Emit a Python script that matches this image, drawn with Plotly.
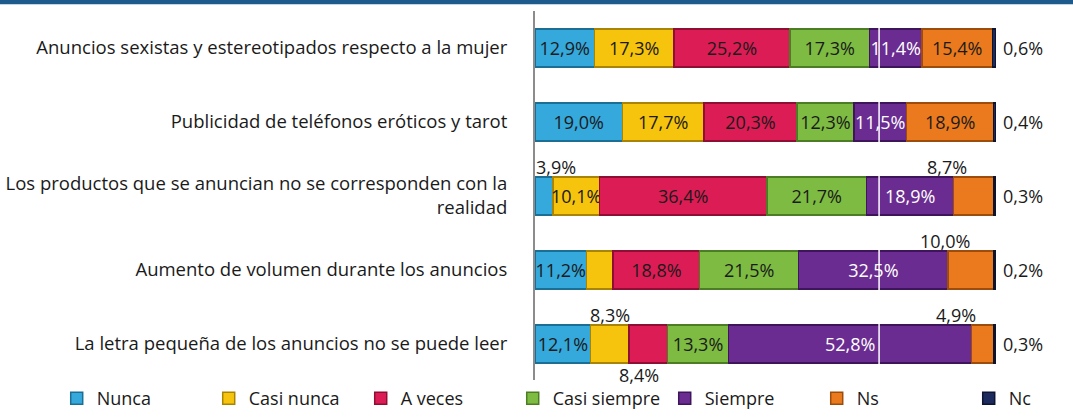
import plotly.graph_objects as go

categories = [
    "Anuncios sexistas y estereotipados respecto a la mujer",
    "Publicidad de teléfonos eróticos y tarot",
    "Los productos que se anuncian no se corresponden con la<br>realidad",
    "Aumento de volumen durante los anuncios",
    "La letra pequeña de los anuncios no se puede leer",
]
series_names = ["Nunca", "Casi nunca", "A veces", "Casi siempre", "Siempre", "Ns", "Nc"]
nunca = [12.9, 19.0, 3.9, 11.2, 12.1]
casi_nunca = [17.3, 17.7, 10.1, 5.8, 8.3]
a_veces = [25.2, 20.3, 36.4, 18.8, 8.4]
casi_siempre = [17.3, 12.3, 21.7, 21.5, 13.3]
siempre = [11.4, 11.5, 18.9, 32.5, 52.8]
ns = [15.4, 18.9, 8.7, 10.0, 4.9]
nc = [0.6, 0.4, 0.3, 0.2, 0.3]
values = [nunca, casi_nunca, a_veces, casi_siempre, siempre, ns, nc]

# label placement per series/category: 'in', 'above', 'below', 'right', 'none'
placement = [
    ["in", "in", "above", "in", "in"],
    ["in", "in", "in", "none", "above"],
    ["in", "in", "in", "in", "below"],
    ["in", "in", "in", "in", "in"],
    ["in", "in", "in", "in", "in"],
    ["in", "in", "above", "above", "above"],
    ["right", "right", "right", "right", "right"],
]
# horizontal nudges (px) for outside labels, keyed by (series, category)
label_dx = {(0, 2): 12, (5, 2): -27, (5, 3): -26, (5, 4): -27, (2, 4): -9}

colors = ["#35a8dc", "#f6c40c", "#dc1d55", "#7dbb42", "#6b2c91", "#eb7a1e", "#1d2a5e"]
edge = ["#1c6f94", "#a98400", "#8e0f33", "#4c7d24", "#3e145a", "#9c4c0b", "#0d1430"]
text_colors = ["#1a1a1a", "#1a1a1a", "#1a1a1a", "#1a1a1a", "#ffffff", "#1a1a1a", "#1a1a1a"]

FONT = "Open Sans"
FS = 18
XMAX = 100 * 538 / 460

def fmt(v):
    return f"{v:.1f}".replace(".", ",") + "%"

fig = go.Figure()
annotations = []
cum = [0.0] * len(categories)
for si, name in enumerate(series_names):
    vals = values[si]
    texts = [fmt(v) if placement[si][ci] == "in" else "" for ci, v in enumerate(vals)]
    fig.add_trace(go.Bar(
        name=name, y=categories, x=vals, orientation="h",
        marker=dict(color=colors[si], line=dict(color=edge[si], width=1.5)),
        text=texts, textposition="inside", insidetextanchor="middle",
        textfont=dict(family=FONT, size=FS, color=text_colors[si]),
        constraintext="none", cliponaxis=False,
    ))
    for ci, v in enumerate(vals):
        p = placement[si][ci]
        mid = cum[ci] + v / 2
        dx = label_dx.get((si, ci), 0)
        f = dict(family=FONT, size=FS, color="#1a1a1a")
        if p == "above":
            annotations.append(dict(x=mid, y=ci, xref="x", yref="y", text=fmt(v),
                                    showarrow=False, yshift=29, xshift=dx, font=f))
        elif p == "below":
            annotations.append(dict(x=mid, y=ci, xref="x", yref="y", text=fmt(v),
                                    showarrow=False, yshift=-31, xshift=dx, font=f))
        elif p == "right":
            annotations.append(dict(x=cum[ci] + v, y=ci, xref="x", yref="y", text=fmt(v),
                                    showarrow=False, xanchor="left", xshift=6, font=f))
        cum[ci] += v

shapes = [
    dict(type="rect", xref="paper", yref="paper", x0=-2, x1=2, y0=1.018, y1=1.03,
         fillcolor="#1f5a8c", line=dict(width=0), layer="above"),
    dict(type="line", xref="x", yref="paper", x0=74.8, x1=74.8, y0=0, y1=1,
         line=dict(color="#ffffff", width=1.5), layer="above"),
]

fig.update_layout(
    width=1073, height=417,
    margin=dict(l=535, r=0, t=11, b=30, autoexpand=False),
    paper_bgcolor="white", plot_bgcolor="white",
    barmode="stack", bargap=0.49,
    showlegend=True,
    legend=dict(orientation="h", x=-0.889, xanchor="left", y=-0.0798, yanchor="bottom",
                traceorder="normal",
                entrywidth=107, entrywidthmode="pixels",
                font=dict(family=FONT, size=FS, color="#1a1a1a"),
                itemwidth=30, tracegroupgap=0),
    font=dict(family=FONT, size=FS, color="#1a1a1a"),
    annotations=annotations,
    shapes=shapes,
)
fig.update_xaxes(range=[0, XMAX], showgrid=False, showticklabels=False, zeroline=False,
                 showline=False)
fig.update_yaxes(autorange="reversed", showgrid=False, showline=True, linecolor="#8c8c8c",
                 linewidth=2, ticks="", ticklabelstandoff=22,
                 tickfont=dict(family=FONT, size=18.5, color="#1a1a1a"))

fig.write_html("out.html", config={"displayModeBar": False},
               post_script="document.body.style.margin='0';")
